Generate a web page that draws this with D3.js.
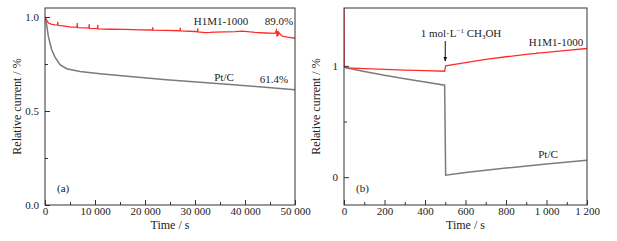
<!DOCTYPE html>
<html>
<head>
<meta charset="utf-8">
<script src="https://cdn.jsdelivr.net/npm/d3@7"></script>
<style>
  html, body { margin: 0; padding: 0; background: #fff; }
  svg text { font-family: 'Liberation Serif', 'Times New Roman', Times, 'DejaVu Serif', serif; fill: #222; }
</style>
</head>
<body>
<div id="chart"></div>
<script>
/* ── data: (a) long-term stability, (b) methanol tolerance ─────────── */
const redA = [
  [0,1.0],[300,0.985],[700,0.968],[1200,0.962],[2000,0.958],[2500,0.957],[2550,0.975],[2600,0.956],
  [3500,0.953],[5000,0.948],[6400,0.945],[6450,0.968],[6500,0.944],[8000,0.942],[8800,0.941],
  [8850,0.962],[8900,0.940],[10500,0.938],[10550,0.958],[10600,0.937],[13000,0.935],[16000,0.934],
  [19000,0.932],[21500,0.931],[21550,0.945],[21600,0.930],[24000,0.929],[27000,0.927],[27050,0.942],
  [27100,0.926],[30000,0.923],[30500,0.922],[30550,0.94],[30600,0.921],[32000,0.917],[33000,0.918],
  [34000,0.92],[36000,0.921],[38000,0.922],[39500,0.925],[40500,0.922],[42000,0.918],[44000,0.915],
  [46000,0.913],[46300,0.93],[46400,0.895],[46500,0.925],[46600,0.9],[46700,0.92],[47000,0.91],
  [47500,0.898],[48500,0.893],[50000,0.887]
];
const grayA = [
  [0,1.0],[130,0.995],[670,0.897],[1330,0.826],[2000,0.787],[3000,0.746],[4330,0.725],
  [7000,0.71],[11000,0.698],[17000,0.683],[24300,0.666],[31000,0.653],[37700,0.64],
  [44000,0.626],[50000,0.613]
];
const redB = [
  [0,1.55],[1,0.99],[20,0.982],[100,0.976],[200,0.968],[300,0.962],[400,0.957],[497,0.952],
  [502,1.0],[600,1.03],[700,1.058],[800,1.082],[900,1.103],[950,1.112],[955,1.118],[960,1.114],
  [1000,1.122],[1100,1.14],[1200,1.156]
];
const grayB = [
  [0,1.0],[5,0.985],[100,0.95],[200,0.915],[300,0.885],[400,0.855],[497,0.826],
  [502,0.018],[600,0.042],[800,0.082],[1000,0.118],[1200,0.152]
];
const ticksA = { x: [0, 10000, 20000, 30000, 40000, 50000], xMinor: [5000, 15000, 25000, 35000, 45000],
                 y: [0, 0.5, 1.0], yMinor: [0.25, 0.75] };
const ticksB = { x: [0, 200, 400, 600, 800, 1000, 1200], xMinor: [100, 300, 500, 700, 900, 1100],
                 y: [0, 1], yMinor: [0.5] };

const RED = '#ff2b2b', GRAY = '#7b7b7b';
const FONT = "'Liberation Serif', 'Times New Roman', Times, 'DejaVu Serif', serif";
const W = 617, H = 241;
const svg = d3.select('#chart').append('svg').attr('width', W).attr('height', H)
  .attr('font-family', FONT);

/* thousands with a space: 10 000 */
const fmtX = v => d3.format(',')(v).replace(/,/g, ' ');

/* ── one panel ─────────────────────────────────────────────────────── */
function panel(o) {
  const x = d3.scaleLinear().domain(o.xDomain).range([o.l, o.r]);
  const y = d3.scaleLinear().domain(o.yDomain).range([205, 8]);
  const g = svg.append('g');
  const clip = 'clip' + o.id;
  g.append('clipPath').attr('id', clip).append('rect')
    .attr('x', o.l).attr('y', 8).attr('width', o.r - o.l).attr('height', 197);

  const line = d3.line().x(d => x(d[0])).y(d => y(d[1]));
  g.append('path').datum(o.gray).attr('d', line).attr('fill', 'none')
    .attr('stroke', GRAY).attr('stroke-width', 1.5).attr('clip-path', `url(#${clip})`);
  g.append('path').datum(o.red).attr('d', line).attr('fill', 'none')
    .attr('stroke', RED).attr('stroke-width', 1.3).attr('clip-path', `url(#${clip})`);

  /* axes: inward ticks */
  g.append('g').attr('transform', 'translate(0,205)')
    .call(d3.axisBottom(x).tickValues(o.ticks.x).tickSize(-5).tickPadding(2).tickFormat(o.xFmt));
  g.append('g').attr('transform', 'translate(0,205)')
    .call(d3.axisBottom(x).tickValues(o.ticks.xMinor).tickSize(-3).tickFormat(''));
  g.append('g').attr('transform', `translate(${o.l},0)`)
    .call(d3.axisLeft(y).tickValues(o.ticks.y).tickSize(-5).tickPadding(6).tickFormat(o.yFmt));
  g.append('g').attr('transform', `translate(${o.l},0)`)
    .call(d3.axisLeft(y).tickValues(o.ticks.yMinor).tickSize(-3).tickFormat(''));
  g.selectAll('.domain').remove();
  g.selectAll('g').attr('font-family', FONT);
  g.selectAll('.tick line').attr('stroke', '#333');
  g.selectAll('.tick text').attr('font-size', 11).attr('fill', '#222');

  g.append('rect').attr('x', o.l).attr('y', 8).attr('width', o.r - o.l).attr('height', 197)
    .attr('fill', 'none').attr('stroke', '#333').attr('stroke-width', 1);

  g.append('text').attr('x', (o.l + o.r) / 2).attr('y', 229).attr('text-anchor', 'middle')
    .attr('font-size', 12).text('Time / s');
  g.append('text').attr('transform', `translate(${o.l - 24},${(8 + 205) / 2}) rotate(-90)`)
    .attr('text-anchor', 'middle').attr('font-size', 12).text('Relative current / %');
  g.append('text').attr('x', o.l + 12).attr('y', 192).attr('font-size', 11).text(o.tag);
  return { g, x, y };
}

const A = panel({ id: 'a', l: 45, r: 295, xDomain: [0, 50000], yDomain: [0, 1.048],
  red: redA, gray: grayA, ticks: ticksA, xFmt: fmtX, yFmt: d3.format('.1f'), tag: '(a)' });
A.g.append('text').attr('x', 221).attr('y', 25).attr('text-anchor', 'middle').attr('font-size', 11).text('H1M1-1000');
A.g.append('text').attr('x', 279).attr('y', 25).attr('text-anchor', 'middle').attr('font-size', 11).text('89.0%');
A.g.append('text').attr('x', 224).attr('y', 81).attr('text-anchor', 'middle').attr('font-size', 11).text('Pt/C');
A.g.append('text').attr('x', 274).attr('y', 83).attr('text-anchor', 'middle').attr('font-size', 11).text('61.4%');

const B = panel({ id: 'b', l: 344, r: 587, xDomain: [0, 1200], yDomain: [-0.25, 1.52],
  red: redB, gray: grayB, ticks: ticksB, xFmt: fmtX, yFmt: d3.format('d'), tag: '(b)' });
const meth = B.g.append('text').attr('x', 461).attr('y', 37).attr('text-anchor', 'middle').attr('font-size', 11);
meth.append('tspan').text('1 mol\u00b7L');
meth.append('tspan').attr('dy', -4).attr('font-size', 7).text('\u22121');
meth.append('tspan').attr('dy', 4).text(' CH');
meth.append('tspan').attr('dy', 2).attr('font-size', 7).text('3');
meth.append('tspan').attr('dy', -2).text('OH');
svg.append('defs').append('marker').attr('id', 'arr').attr('viewBox', '0 0 10 10')
  .attr('refX', 9).attr('refY', 5).attr('markerWidth', 5).attr('markerHeight', 6).attr('orient', 'auto')
  .append('path').attr('d', 'M0,1 L10,5 L0,9 Z').attr('fill', '#111');
B.g.append('line').attr('x1', B.x(500)).attr('x2', B.x(500)).attr('y1', 41).attr('y2', 61)
  .attr('stroke', '#111').attr('stroke-width', 1).attr('marker-end', 'url(#arr)');
B.g.append('text').attr('x', 556).attr('y', 46).attr('text-anchor', 'middle').attr('font-size', 11).text('H1M1-1000');
B.g.append('text').attr('x', 548).attr('y', 158).attr('text-anchor', 'middle').attr('font-size', 11).text('Pt/C');
</script>
</body>
</html>
